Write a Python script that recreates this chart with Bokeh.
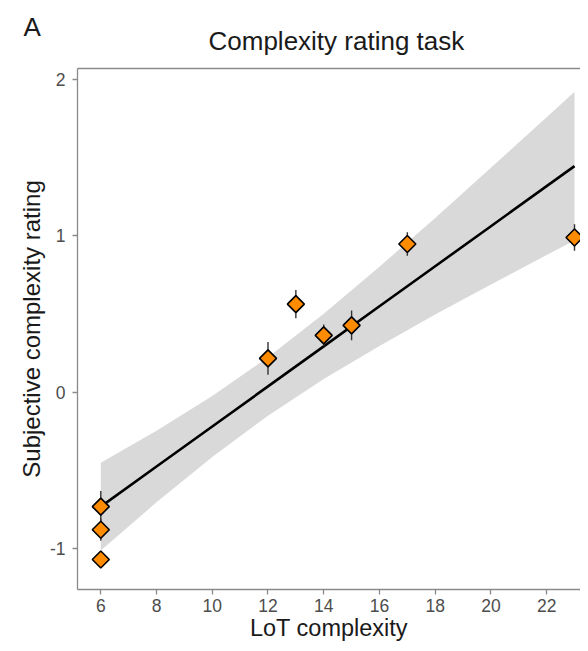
import numpy as np
from bokeh.plotting import figure
from bokeh.models import LinearAxis, FixedTicker, Range1d, Title
from bokeh.embed import file_html
from bokeh.resources import INLINE

# Data
lot = [6, 6, 6, 12, 13, 14, 15, 17, 23]
rating = [-0.73, -0.878, -1.068, 0.217, 0.564, 0.364, 0.428, 0.948, 0.99]
err = [0.10, 0.07, 0.05, 0.105, 0.09, 0.07, 0.095, 0.075, 0.085]

fit_x = [6, 8, 10, 12, 14, 16, 18, 20, 22, 23]
fit_y = [-0.73, -0.474, -0.218, 0.038, 0.294, 0.55, 0.806, 1.062, 1.318, 1.446]
ci_upper = [-0.45, -0.245, -0.023, 0.225, 0.503, 0.803, 1.115, 1.435, 1.758, 1.921]
ci_lower = [-1.01, -0.703, -0.413, -0.149, 0.085, 0.297, 0.497, 0.689, 0.878, 0.971]

x_ticks = [6, 8, 10, 12, 14, 16, 18, 20, 22]
y_ticks = [-1, 0, 1, 2]

title_text = "Complexity rating task"
panel_text = "A"
x_label = "LoT complexity"
y_label = "Subjective complexity rating"

FONT = "Liberation Sans"
AXIS_GREY = "#8a8a8a"
TICK_TEXT = "#4d4d4d"

p = figure(width=580, height=643, x_range=Range1d(5.164, 23.215), y_range=Range1d(-1.26, 2.07),
           output_backend="svg", toolbar_location=None,
           min_border_left=77, min_border_right=0, min_border_top=68, min_border_bottom=54)
p.outline_line_color = None
p.xgrid.visible = False
p.ygrid.visible = False
p.background_fill_color = "white"
p.border_fill_color = "white"

for ax in (p.xaxis[0], p.yaxis[0]):
    ax.axis_line_color = AXIS_GREY
    ax.axis_line_width = 1.3
    ax.major_tick_line_color = AXIS_GREY
    ax.major_tick_line_width = 1.3
    ax.major_tick_in = 0
    ax.major_tick_out = 5
    ax.minor_tick_line_color = None
    ax.major_label_text_font = FONT
    ax.major_label_text_font_size = "17.5px"
    ax.major_label_text_color = TICK_TEXT
    ax.axis_label_text_font = FONT
    ax.axis_label_text_font_style = "normal"
    ax.axis_label_text_color = "#1a1a1a"

p.xaxis[0].ticker = FixedTicker(ticks=x_ticks)
p.yaxis[0].ticker = FixedTicker(ticks=y_ticks)
p.yaxis[0].major_label_overrides = {-1: "-1"}
p.xaxis[0].axis_label = x_label
p.yaxis[0].axis_label = y_label
p.xaxis[0].axis_label_text_font_size = "23.5px"
p.yaxis[0].axis_label_text_font_size = "24px"
p.xaxis[0].major_label_standoff = 4
p.xaxis[0].axis_label_standoff = 0
p.yaxis[0].major_label_standoff = 7
p.yaxis[0].axis_label_standoff = 2

top = LinearAxis(ticker=FixedTicker(ticks=[]), axis_line_color=AXIS_GREY, axis_line_width=1.3,
                 major_tick_line_color=None, minor_tick_line_color=None)
p.add_layout(top, "above")

p.add_layout(Title(text=title_text, align="left", offset=131, standoff=25,
                   text_font=FONT, text_font_size="26px", text_font_style="normal",
                   text_color="#1a1a1a"), "above")
p.add_layout(Title(text=panel_text, align="left", offset=-54, standoff=-61,
                   text_font=FONT, text_font_size="26px", text_font_style="normal",
                   text_color="#1a1a1a"), "above")

# confidence ribbon
p.varea(x=fit_x, y1=ci_lower, y2=ci_upper, fill_color="#d9d9d9", fill_alpha=1.0)
# regression line
p.line(fit_x, fit_y, line_color="black", line_width=2.6)
# error bars
y0 = [r - e for r, e in zip(rating, err)]
y1 = [r + e for r, e in zip(rating, err)]
p.segment(x0=lot, y0=y0, x1=lot, y1=y1, line_color="#333333", line_width=1.4)
# points
p.scatter(lot, rating, marker="square", angle=np.pi / 4, size=12,
          fill_color="#ff8c00", line_color="black", line_width=1.6)

open("out.html", "w").write(file_html(p, INLINE))
